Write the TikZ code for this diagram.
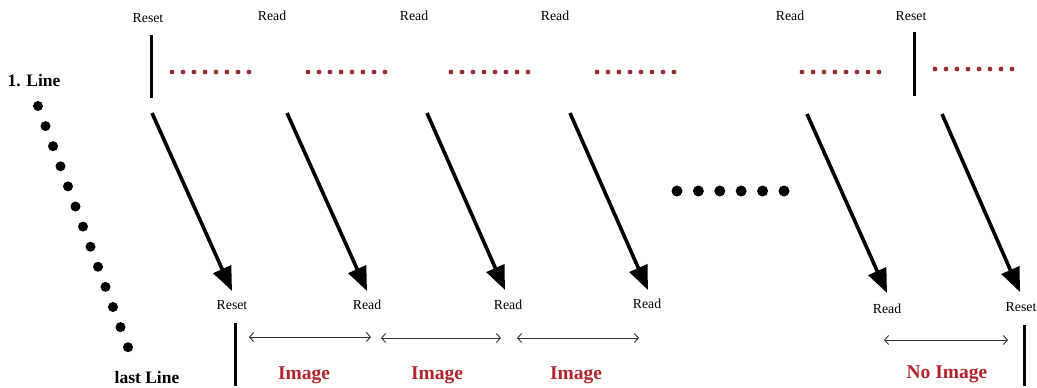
\documentclass[tikz,border=0pt]{standalone}
\usepackage{fontspec}
\setmainfont{Liberation Serif}
\usetikzlibrary{arrows.meta}
\definecolor{imgred}{RGB}{178,36,44}
\definecolor{dotred}{RGB}{150,48,50}
\tikzset{
  lbl/.style={font=\fontsize{13.8}{15}\selectfont, inner sep=0pt},
  rowlbl/.style={font=\fontsize{17.5}{19}\selectfont\bfseries, inner sep=0pt},
  imglbl/.style={font=\fontsize{19.5}{21}\selectfont\bfseries, text=imgred, inner sep=0pt},
  bar/.style={line width=3pt},
  scan/.style={line width=3.6pt, -{Triangle[length=24pt,width=19pt]}},
  span/.style={line width=0.9pt, draw=black!80, {Straight Barb[length=4pt,width=9pt]}-{Straight Barb[length=4pt,width=9pt]}},
  bigdot/.style={fill=black},
  reddot/.style={fill=dotred}
}
\begin{document}
\begin{tikzpicture}[x=1pt,y=-1pt]
\useasboundingbox (0,0) rectangle (1037,388);

% top labels
\node[lbl] (t1) at (148,18) {Reset};
\node[lbl] (t2) at (272,16) {Read};
\node[lbl] (t3) at (414,16) {Read};
\node[lbl] (t4) at (555,16) {Read};
\node[lbl] (t5) at (790,16) {Read};
\node[lbl] (t6) at (911,16) {Reset};

% reset bars at the first line
\coordinate (rb1a) at (151,35);  \coordinate (rb1b) at (151,98);
\coordinate (rb2a) at (914,32);  \coordinate (rb2b) at (914,96);
\draw[bar] (rb1a) -- (rb1b);
\draw[bar] (rb2a) -- (rb2b);

% red pixel rows
\foreach \x/\y in {172/72, 308/72, 451/72, 597/72, 802/72, 935/69}
  \foreach \i in {0,...,7}
    \fill[reddot] (\x+\i*11,\y) circle (2.4pt);

% line labels and column of dots
\node[rowlbl] (first) at (34,81) {1. Line};
\node[rowlbl] (last) at (147,378) {last Line};
\foreach \i in {0,...,12}
  \fill[bigdot] (38+\i*7.5,106+\i*20.1) circle (5pt);

% row of dots in the middle
\foreach \i in {0,...,5}
  \fill[bigdot] (677+\i*21.4,191) circle (5.5pt);

% scanning arrows
\coordinate (s1) at (152,113);  \coordinate (e1) at (232,291);
\coordinate (s2) at (287,113);  \coordinate (e2) at (367,291);
\coordinate (s3) at (427,113);  \coordinate (e3) at (505,290);
\coordinate (s4) at (570,113);  \coordinate (e4) at (648,290);
\coordinate (s5) at (807,114);  \coordinate (e5) at (887,293);
\coordinate (s6) at (942,114);  \coordinate (e6) at (1020,292);
\foreach \k in {1,...,6}
  \draw[scan] (s\k) -- (e\k);

% bottom labels
\node[lbl] (b1) at (232,305) {Reset};
\node[lbl] (b2) at (367,305) {Read};
\node[lbl] (b3) at (508,305) {Read};
\node[lbl] (b4) at (647,304) {Read};
\node[lbl] (b5) at (887,309) {Read};
\node[lbl] (b6) at (1021,307) {Reset};

% reset bars at the last line
\coordinate (lb1a) at (235,323);  \coordinate (lb1b) at (235,386);
\coordinate (lb2a) at (1024,325); \coordinate (lb2b) at (1024,386);
\draw[bar] (lb1a) -- (lb1b);
\draw[bar] (lb2a) -- (lb2b);

% exposure spans
\coordinate (p1a) at (249,337); \coordinate (p1b) at (371,337);
\coordinate (p2a) at (381,338); \coordinate (p2b) at (501,338);
\coordinate (p3a) at (517,338); \coordinate (p3b) at (639,338);
\coordinate (p4a) at (884,340); \coordinate (p4b) at (1008,340);
\foreach \k in {1,...,4}
  \draw[span] (p\k a) -- (p\k b);

% image labels
\node[imglbl] (i1) at (304,375) {Image};
\node[imglbl] (i2) at (437,375) {Image};
\node[imglbl] (i3) at (576,375) {Image};
\node[imglbl] (i4) at (947,374) {No Image};
\end{tikzpicture}
\end{document}
